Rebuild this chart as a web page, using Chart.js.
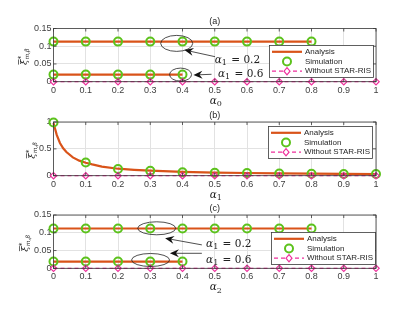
<!DOCTYPE html>
<html>
<head>
<meta charset="utf-8">
<script src="https://cdn.jsdelivr.net/npm/chart.js@4.4.0/dist/chart.umd.min.js"></script>
<style>
html, body { margin: 0; padding: 0; background: #fff; width: 415px; height: 312px; overflow: hidden; }
canvas { position: absolute; left: 0; }
</style>
</head>
<body>
<canvas id="chartA" style="top:0px"></canvas>
<canvas id="chartB" style="top:104px"></canvas>
<canvas id="chartC" style="top:200px"></canvas>
<script>
//------- data -------//
const xTicks = [0, 0.1, 0.2, 0.3, 0.4, 0.5, 0.6, 0.7, 0.8, 0.9, 1];
const xTickLabels = ['0', '0.1', '0.2', '0.3', '0.4', '0.5', '0.6', '0.7', '0.8', '0.9', '1'];

// panels (a) and (c): constant lines, upper up to 0.8, lower up to 0.4
const simX_hi = [0, 0.1, 0.2, 0.3, 0.4, 0.5, 0.6, 0.7, 0.8];
const simX_lo = [0, 0.1, 0.2, 0.3, 0.4];
const anaX_hi = [0, 0.8];
const anaX_lo = [0, 0.4];

const anaA_hi = [0.113, 0.113];
const anaA_lo = [0.02, 0.02];
const simA_hi = [0.113, 0.113, 0.113, 0.113, 0.113, 0.113, 0.113, 0.113, 0.113];
const simA_lo = [0.02, 0.02, 0.02, 0.02, 0.02];
const noRisA = [0, 0, 0, 0, 0, 0, 0, 0, 0, 0, 0];

const anaC_hi = [0.112, 0.112];
const anaC_lo = [0.019, 0.019];
const simC_hi = [0.112, 0.112, 0.112, 0.112, 0.112, 0.112, 0.112, 0.112, 0.112];
const simC_lo = [0.019, 0.019, 0.019, 0.019, 0.019];
const noRisC = [0, 0, 0, 0, 0, 0, 0, 0, 0, 0, 0];

// panel (b): decaying curve
const anaB_x = [0, 0.01, 0.02, 0.03, 0.04, 0.06, 0.08, 0.1, 0.12, 0.15, 0.2, 0.25, 0.3, 0.4, 0.5, 0.6, 0.7, 0.8, 0.9, 1];
const anaB = [0.98, 0.76, 0.61, 0.51, 0.44, 0.34, 0.28, 0.24, 0.21, 0.17, 0.13, 0.11, 0.094, 0.072, 0.059, 0.05, 0.043, 0.038, 0.034, 0.031];
const simB = [0.99, 0.245, 0.125, 0.09, 0.065, 0.056, 0.048, 0.042, 0.037, 0.033, 0.03];
const noRisB = [0, 0, 0, 0, 0, 0, 0, 0, 0, 0, 0];

const ticksSmall = [0, 0.05, 0.1, 0.15];
const ticksSmallLabels = ['0', '0.05', '0.1', '0.15'];
const ticksBig = [0, 0.25, 0.5, 0.75, 1];
const ticksBigLabels = ['0', '0.25', '0.5', '0.75', '1'];

//------- styles -------//
const FONT = '"Liberation Sans", Arial, Helvetica, sans-serif';
const SERIF = '"DejaVu Serif", "Liberation Serif", serif';
const ORANGE = '#D95319';
const GREEN = '#5CC21C';
const MAGENTA = '#EE2F9C';
const AXIS = '#3a3a3a';

function pts(xs, ys) {
    return xs.map((x, i) => ({ x: x, y: ys[i] }));
}

function analysisSet(data) {
    return { label: 'Analysis', data: data, borderColor: ORANGE, borderWidth: 2.2,
        pointRadius: 0, showLine: true, order: 2, clip: false };
}
function simulationSet(data) {
    return { label: 'Simulation', data: data, showLine: false, pointStyle: 'circle',
        pointRadius: 4, borderColor: GREEN, pointBorderWidth: 2,
        backgroundColor: 'rgba(0,0,0,0)', order: 1, clip: false };
}
function noRisSet(data) {
    return { label: 'Without STAR-RIS', data: data, borderColor: MAGENTA, borderWidth: 1.2,
        borderDash: [4, 3], showLine: true, pointStyle: 'rectRot', pointRadius: 3.2,
        pointBorderWidth: 1.2, backgroundColor: 'rgba(0,0,0,0)', order: 0, clip: false };
}

//------- drawing helpers -------//
function arrow(ctx, x1, y1, x2, y2) {
    const ang = Math.atan2(y2 - y1, x2 - x1);
    ctx.beginPath();
    ctx.moveTo(x1, y1);
    ctx.lineTo(x2 - 5 * Math.cos(ang), y2 - 5 * Math.sin(ang));
    ctx.stroke();
    ctx.save();
    ctx.translate(x2, y2);
    ctx.rotate(ang);
    ctx.beginPath();
    ctx.moveTo(0, 0);
    ctx.lineTo(-9, -4);
    ctx.lineTo(-6, 0);
    ctx.lineTo(-9, 4);
    ctx.closePath();
    ctx.fill();
    ctx.restore();
}

// italic alpha with subscript, then optional rest; (x, y) = left, vertical middle
function alphaText(ctx, x, y, sub, rest, size) {
    const base = y + size * 0.33;
    ctx.textBaseline = 'alphabetic';
    ctx.textAlign = 'left';
    ctx.font = 'italic ' + size + 'px ' + SERIF;
    ctx.fillText('α', x, base);
    let w = ctx.measureText('α').width;
    ctx.font = Math.round(size * 0.72) + 'px ' + SERIF;
    ctx.fillText(sub, x + w, base + size * 0.22);
    w += ctx.measureText(sub).width;
    if (rest) {
        ctx.font = size + 'px ' + SERIF;
        ctx.fillText(rest, x + w + 1, base);
    }
    return w;
}

function drawLegend(ctx, bx, by) {
    const w = 104, h = 32;
    ctx.fillStyle = '#fff';
    ctx.fillRect(bx, by, w, h);
    ctx.strokeStyle = AXIS;
    ctx.lineWidth = 0.8;
    ctx.setLineDash([]);
    ctx.strokeRect(bx + 0.5, by + 0.5, w, h);
    const rows = [by + 6.8, by + 16.5, by + 26.2];
    // analysis
    ctx.strokeStyle = ORANGE; ctx.lineWidth = 2.2;
    ctx.beginPath(); ctx.moveTo(bx + 3, rows[0]); ctx.lineTo(bx + 33, rows[0]); ctx.stroke();
    // simulation
    ctx.strokeStyle = GREEN; ctx.lineWidth = 2;
    ctx.beginPath(); ctx.arc(bx + 18, rows[1], 4, 0, Math.PI * 2); ctx.stroke();
    // without STAR-RIS
    ctx.strokeStyle = MAGENTA; ctx.lineWidth = 1.2;
    ctx.setLineDash([4, 3]);
    ctx.beginPath(); ctx.moveTo(bx + 3, rows[2]); ctx.lineTo(bx + 33, rows[2]); ctx.stroke();
    ctx.setLineDash([]);
    ctx.beginPath();
    ctx.moveTo(bx + 18, rows[2] - 3.6); ctx.lineTo(bx + 21, rows[2]);
    ctx.lineTo(bx + 18, rows[2] + 3.6); ctx.lineTo(bx + 15, rows[2]); ctx.closePath();
    ctx.fillStyle = '#fff'; ctx.fill(); ctx.stroke();

    ctx.fillStyle = '#262626';
    ctx.font = '8px ' + FONT;
    ctx.textAlign = 'left';
    ctx.textBaseline = 'middle';
    ctx.fillText('Analysis', bx + 36, rows[0]);
    ctx.fillText('Simulation', bx + 36, rows[1]);
    ctx.fillText('Without STAR-RIS', bx + 36, rows[2]);
}

// matlab-like box, inward ticks, title, axis labels, legend, annotations
const decor = {
    id: 'decor',
    afterDatasetsDraw(chart, args, o) {
        const ctx = chart.ctx, a = chart.chartArea;
        const xs = chart.scales.x, ys = chart.scales.y;
        ctx.save();

        // box + inward ticks
        ctx.strokeStyle = AXIS;
        ctx.lineWidth = 0.8;
        ctx.strokeRect(a.left, a.top, a.right - a.left, a.bottom - a.top);
        ctx.beginPath();
        xs.ticks.forEach(t => {
            const px = xs.getPixelForValue(t.value);
            ctx.moveTo(px, a.bottom); ctx.lineTo(px, a.bottom - 3);
            ctx.moveTo(px, a.top); ctx.lineTo(px, a.top + 3);
        });
        ys.ticks.forEach(t => {
            const py = ys.getPixelForValue(t.value);
            ctx.moveTo(a.left, py); ctx.lineTo(a.left + 3, py);
            ctx.moveTo(a.right, py); ctx.lineTo(a.right - 3, py);
        });
        ctx.stroke();

        // legend
        drawLegend(ctx, a.right - o.legendRight - 104, a.top + o.legendTop);

        // annotations
        ctx.strokeStyle = '#222';
        ctx.fillStyle = '#111';
        ctx.lineWidth = 0.8;
        (o.ellipses || []).forEach(e => {
            ctx.beginPath();
            ctx.ellipse(xs.getPixelForValue(e[0]), ys.getPixelForValue(e[1]), e[2], e[3], 0, 0, Math.PI * 2);
            ctx.stroke();
        });
        (o.arrows || []).forEach(r => {
            arrow(ctx, xs.getPixelForValue(r[0]), ys.getPixelForValue(r[1]),
                xs.getPixelForValue(r[2]), ys.getPixelForValue(r[3]));
        });
        ctx.fillStyle = '#222';
        (o.labels || []).forEach(l => {
            alphaText(ctx, xs.getPixelForValue(l[0]), ys.getPixelForValue(l[1]), l[2], l[3], 10.5);
        });

        // title
        const cx = (a.left + a.right) / 2;
        ctx.fillStyle = '#262626';
        ctx.font = '9px ' + FONT;
        ctx.textAlign = 'center';
        ctx.textBaseline = 'middle';
        ctx.fillText(o.title, cx, a.top - 6.5);

        // x label
        alphaText(ctx, cx - 5, a.bottom + 18.5, o.xSub, '', 10.5);

        // y label (rotated)
        ctx.translate(o.yLabelX, (a.top + a.bottom) / 2 + 2);
        ctx.rotate(-Math.PI / 2);
        ctx.textAlign = 'left';
        ctx.textBaseline = 'alphabetic';
        ctx.font = 'italic 10px ' + SERIF;
        ctx.fillText('ξ', -8, 3);
        ctx.lineWidth = 0.7;
        ctx.strokeStyle = '#262626';
        ctx.beginPath(); ctx.moveTo(-7.5, -5.5); ctx.lineTo(-2.5, -5.5); ctx.stroke();
        ctx.font = '7px ' + SERIF;
        ctx.fillText('*', -2.5, -1.5);
        ctx.font = 'italic 6px ' + SERIF;
        ctx.fillText('m,β', -2.5, 5);
        ctx.restore();
    }
};

function makeChart(id, H, areaTop, areaBottom, cfg) {
    const el = document.getElementById(id);
    el.width = 415;
    el.height = H;
    return new Chart(el.getContext('2d'), {
        type: 'scatter',
        data: { datasets: cfg.datasets },
        plugins: [decor],
        options: {
            responsive: false,
            animation: false,
            devicePixelRatio: 1,
            layout: { autoPadding: false, padding: { left: 0, right: 39, top: areaTop, bottom: H - areaBottom - 20 } },
            plugins: { legend: { display: false }, tooltip: { enabled: false }, decor: cfg.decor },
            scales: {
                x: {
                    type: 'linear', min: 0, max: 1,
                    afterBuildTicks: s => { s.ticks = xTicks.map(v => ({ value: v })); },
                    afterFit: s => { s.height = 20; },
                    ticks: { callback: (v, i) => xTickLabels[i], autoSkip: false, maxRotation: 0,
                        padding: 3, color: '#404040', font: { size: 9, family: FONT } },
                    grid: { color: '#e2e2e2', drawTicks: false },
                    border: { display: false }
                },
                y: {
                    type: 'linear', min: 0, max: cfg.yMax,
                    afterBuildTicks: s => { s.ticks = cfg.yTicks.map(v => ({ value: v })); },
                    afterFit: s => { s.width = 53.5; },
                    ticks: { callback: (v, i) => cfg.yLabels[i], padding: 2,
                        color: '#404040', font: { size: 9, family: FONT } },
                    grid: { color: '#e2e2e2', drawTicks: false },
                    border: { display: false }
                }
            }
        }
    });
}

//------- panel (a) -------//
makeChart('chartA', 110, 28.5, 81.7, {
    yMax: 0.15, yTicks: ticksSmall, yLabels: ticksSmallLabels,
    datasets: [
        noRisSet(pts(xTicks, noRisA)),
        simulationSet(pts(simX_hi, simA_hi)),
        simulationSet(pts(simX_lo, simA_lo)),
        analysisSet(pts(anaX_hi, anaA_hi)),
        analysisSet(pts(anaX_lo, anaA_lo))
    ],
    decor: {
        title: '(a)', xSub: '0', yLabelX: 24, legendRight: 3, legendTop: 16.5,
        ellipses: [[0.382, 0.108, 16, 8], [0.394, 0.02, 11, 6.5]],
        arrows: [[0.501, 0.0705, 0.406, 0.0894], [0.49, 0.0209, 0.434, 0.0189]],
        labels: [[0.5, 0.0632, '1', ' = 0.2'], [0.51, 0.0237, '1', ' = 0.6']]
    }
});

//------- panel (b) -------//
makeChart('chartB', 101, 18, 71.7, {
    yMax: 1, yTicks: ticksBig, yLabels: ticksBigLabels,
    datasets: [
        noRisSet(pts(xTicks, noRisB)),
        simulationSet(pts(xTicks, simB)),
        analysisSet(pts(anaB_x, anaB))
    ],
    decor: { title: '(b)', xSub: '1', yLabelX: 32, legendRight: 4, legendTop: 4 }
});

//------- panel (c) -------//
makeChart('chartC', 112, 15, 68.3, {
    yMax: 0.15, yTicks: ticksSmall, yLabels: ticksSmallLabels,
    datasets: [
        noRisSet(pts(xTicks, noRisC)),
        simulationSet(pts(simX_hi, simC_hi)),
        simulationSet(pts(simX_lo, simC_lo)),
        analysisSet(pts(anaX_hi, anaC_hi)),
        analysisSet(pts(anaX_lo, anaC_lo))
    ],
    decor: {
        title: '(c)', xSub: '2', yLabelX: 25, legendRight: 1, legendTop: 17,
        ellipses: [[0.32, 0.1126, 19, 6.5], [0.301, 0.0234, 19, 6.5]],
        arrows: [[0.46, 0.0659, 0.346, 0.0847], [0.46, 0.0422, 0.361, 0.0422]],
        labels: [[0.473, 0.07, '1', ' = 0.2'], [0.473, 0.026, '1', ' = 0.6']]
    }
});
</script>
</body>
</html>
